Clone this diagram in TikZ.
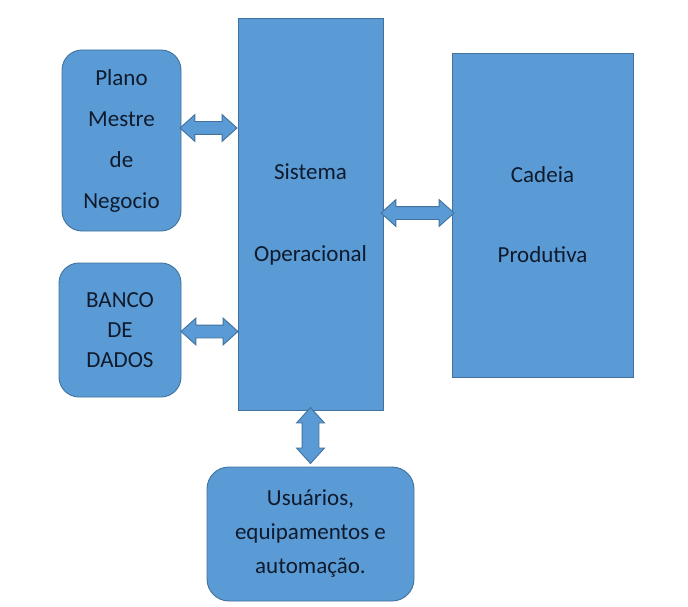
\documentclass[tikz,border=0pt]{standalone}
\usepackage{fontspec}
\setmainfont{Carlito}
\usetikzlibrary{shapes.arrows,calc}
\definecolor{boxblue}{HTML}{5B9BD5}
\definecolor{boxline}{HTML}{41719C}
\definecolor{boxtext}{HTML}{0F1B2D}
\tikzset{
 block/.style={draw=boxline,fill=boxblue,line width=.9pt,text=boxtext,align=center,inner sep=0},
 roundblock/.style={block,rounded corners=20pt},
 link/.style={double arrow,draw=boxline,fill=boxblue,line width=.9pt,inner xsep=0,inner ysep=6pt,minimum width=0pt,double arrow head extend=7pt,double arrow tip angle=84}
}

\begin{document}
\begin{tikzpicture}[x=1pt,y=-1pt]
\path[use as bounding box] (0,0) rectangle (688,607);
\node[roundblock,minimum width=119pt,minimum height=181pt,font=\fontsize{23}{41}\selectfont] (plan) at (121.5,140.5) {Plano\\Mestre\\de\\Negocio};
\node[roundblock,minimum width=122pt,minimum height=134pt,font=\fontsize{23}{30}\selectfont] (banco) at (120,330) {BANCO\\DE\\DADOS};
\node[block,minimum width=145pt,minimum height=392pt,font=\fontsize{23}{82}\selectfont] (sist) at (310.5,214) {Sistema\\Operacional};
\node[block,minimum width=181pt,minimum height=324pt,font=\fontsize{23}{80}\selectfont] (cad) at (542.5,215) {Cadeia\\Produtiva};
\node[roundblock,rounded corners=22pt,minimum width=207pt,minimum height=134pt,font=\fontsize{23}{34}\selectfont] (usr) at (310.5,534) {Usuários,\\equipamentos e\\automação.};
% double arrows between the blocks
\node[link,minimum height=57pt] (plansist) at ($(plan.east)!.5!(plan.east-|sist.west)+(-1,-12.5)$) {};
\node[link,minimum height=57pt] (bancosist) at ($(banco.east)!.5!(banco.east-|sist.west)+(0,1.5)$) {};
\node[link,minimum height=73pt] (sistcad) at ($(sist.east)!.5!(sist.east-|cad.west)+(0,-1)$) {};
\node[link,rotate=90,inner ysep=8pt,double arrow head extend=5.5pt,minimum height=56pt] (sistusr) at ($(sist.south)!.5!(usr.north)+(0,-3)$) {};
\end{tikzpicture}
\end{document}
